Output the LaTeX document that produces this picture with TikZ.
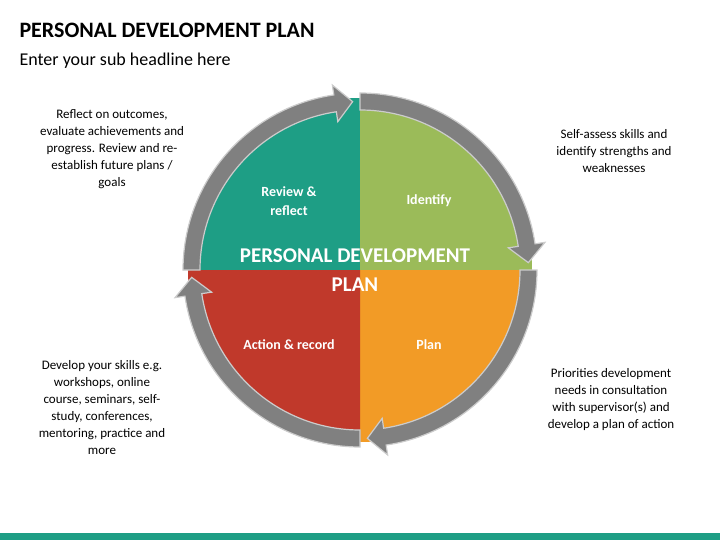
\documentclass[tikz,border=0pt]{standalone}
\usepackage{fontspec}
\setmainfont{Carlito}
\usetikzlibrary{calc}
\definecolor{pdteal}{HTML}{1E9E85}
\definecolor{pdgreen}{HTML}{9BBB59}
\definecolor{pdorange}{HTML}{F29B26}
\definecolor{pdred}{HTML}{C0392B}
\definecolor{pdgray}{HTML}{808080}
\tikzset{
  note/.style={align=center, font=\fontsize{13}{17}\selectfont, text=black},
  quadlabel/.style={align=center, text=white, font=\fontsize{14}{19}\selectfont\bfseries},
  ringarrow/.style={fill=pdgray, draw=gray!40, line width=1.2pt}
}
\newcommand{\ringarrow}[2]{%
  \filldraw[ringarrow] ($(C)+(#1:177)$) arc[start angle=#1, end angle=#2-6, radius=177]
    -- ($(C)+(#2-6:187)$) -- ($(C)+(#2:168.5)$) -- ($(C)+(#2-6:150)$)
    -- ($(C)+(#2-6:160)$) arc[start angle=#2-6, end angle=#1, radius=160] -- cycle;}
\begin{document}
\begin{tikzpicture}[x=1pt, y=-1pt]
    \useasboundingbox (0,0) rectangle (720,540);
    % Title
    \node [anchor=west, font=\fontsize{22}{26}\selectfont\bfseries] (title) at (16,30) {PERSONAL DEVELOPMENT PLAN};
    \node [anchor=west, font=\fontsize{18}{22}\selectfont] (sub) at (16,61) {Enter your sub headline here};
    \fill [pdteal] (0,533) rectangle (720,540);
    % Quadrants
    \coordinate (C) at (360,270);
    \fill [pdteal] (C) -- ++(180:172) arc (180:270:172) -- cycle;
    \fill [pdgreen] (C) -- ++(270:172) arc (270:360:172) -- cycle;
    \fill [pdorange] (C) -- ++(0:172) arc (0:90:172) -- cycle;
    \fill [pdred] (C) -- ++(90:172) arc (90:180:172) -- cycle;
    % Ring arrows
    \foreach \a/\b in {270/357.5, 180/267.5, 90/177.5, 0/87.5}
        \ringarrow{\a}{\b};
    % Labels
    \node [quadlabel] (review) at (289,201) {Review \&\\reflect};
    \node [quadlabel] (identify) at (429,201) {Identify};
    \node [quadlabel] (action) at (289,345) {Action \& record};
    \node [quadlabel] (plan) at (429,345) {Plan};
    \node [align=center, text=white, font=\fontsize{21}{29}\selectfont\bfseries] (centre) at (355,270) {PERSONAL DEVELOPMENT\\PLAN};
    % Notes
    \node [note] (n1) at (112,149) {Reflect on outcomes,\\evaluate achievements and\\progress. Review and re-\\establish future plans /\\goals};
    \node [note] (n2) at (614,151) {Self-assess skills and\\identify strengths and\\weaknesses};
    \node [note] (n3) at (102,408) {Develop your skills e.g.\\workshops, online\\course, seminars, self-\\study, conferences,\\mentoring, practice and\\more};
    \node [note] (n4) at (611,400) {Priorities development\\needs in consultation\\with supervisor(s) and\\develop a plan of action};
\end{tikzpicture}
\end{document}
